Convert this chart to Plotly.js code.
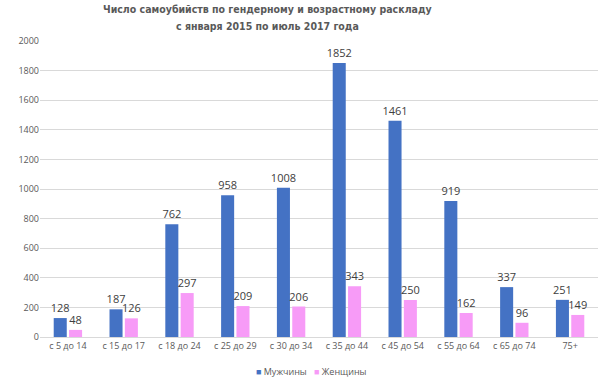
<!DOCTYPE html>
<html><head><meta charset="utf-8">
<script src="https://cdn.plot.ly/plotly-3.0.1.min.js"></script>
<style>html,body{margin:0;padding:0;background:#fff}</style>
</head><body><div id="chart" style="width:604px;height:386px"></div>
<script>
var categories = ["с 5 до 14","с 15 до 17","с 18 до 24","с 25 до 29","с 30 до 34","с 35 до 44","с 45 до 54","с 55 до 64","с 65 до 74","75+"];
var men = [128,187,762,958,1008,1852,1461,919,337,251];
var women = [48,126,297,209,206,343,250,162,96,149];
var yTicks = [0,200,400,600,800,1000,1200,1400,1600,1800,2000];
var seriesNames = ["Мужчины","Женщины"];
var colors = ["#4472C4","#F79BF7"];
var titleLines = ["Число самоубийств по гендерному и возрастному раскладу","с января 2015 по июль 2017 года"];

var labelFont = {family:"Open Sans, sans-serif", size:11, color:"#404040"};
var data = [
 {type:"bar", name:seriesNames[0], x:categories, y:men, text:men.map(String), textposition:"outside",
  constraintext:"none", textfont:labelFont, cliponaxis:false, marker:{color:colors[0]}, hoverinfo:"y"},
 {type:"bar", name:seriesNames[1], x:categories, y:women, text:women.map(String), textposition:"outside",
  constraintext:"none", textfont:labelFont, cliponaxis:false, marker:{color:colors[1]}, hoverinfo:"y"}
];
var titleFont = {family:"DejaVu Sans Condensed, Open Sans, sans-serif", size:10.5, color:"#595959"};
var annotations = [
 {text:"<b>"+titleLines[0]+"</b>", xref:"paper", yref:"paper", x:0.407, y:1.108, xanchor:"center", yanchor:"middle", showarrow:false, font:titleFont},
 {text:"<b>"+titleLines[1]+"</b>", xref:"paper", yref:"paper", x:0.407, y:1.051, xanchor:"center", yanchor:"middle", showarrow:false, font:titleFont},
 {text:"<span style='color:"+colors[0]+"'>■</span> "+seriesNames[0], xref:"paper", yref:"paper", x:0.3835, y:-0.115, xanchor:"left", yanchor:"middle", showarrow:false, font:{size:9, color:"#595959"}},
 {text:"<span style='color:"+colors[1]+"'>■</span> "+seriesNames[1], xref:"paper", yref:"paper", x:0.4875, y:-0.115, xanchor:"left", yanchor:"middle", showarrow:false, font:{size:9, color:"#595959"}}
];
var layout = {
 width:604, height:386,
 margin:{l:40, r:6, t:41, b:49, autoexpand:false},
 paper_bgcolor:"#fff", plot_bgcolor:"#fff",
 font:{family:"Open Sans, sans-serif", color:"#595959", size:9},
 annotations:annotations,
 barmode:"group", bargap:0.45, bargroupgap:0.15,
 xaxis:{type:"category", tickfont:{size:9, color:"#595959"}, showline:true, linecolor:"#d9d9d9", ticks:"", automargin:false},
 yaxis:{range:[0,2000], tickvals:yTicks, ticktext:yTicks.map(String), showgrid:true, gridcolor:"#d9d9d9",
   zeroline:false, tickfont:{size:9, color:"#595959"}, ticks:"", automargin:false},
 showlegend:false
};
Plotly.newPlot("chart", data, layout, {displayModeBar:false, staticPlot:true});
</script></body></html>
